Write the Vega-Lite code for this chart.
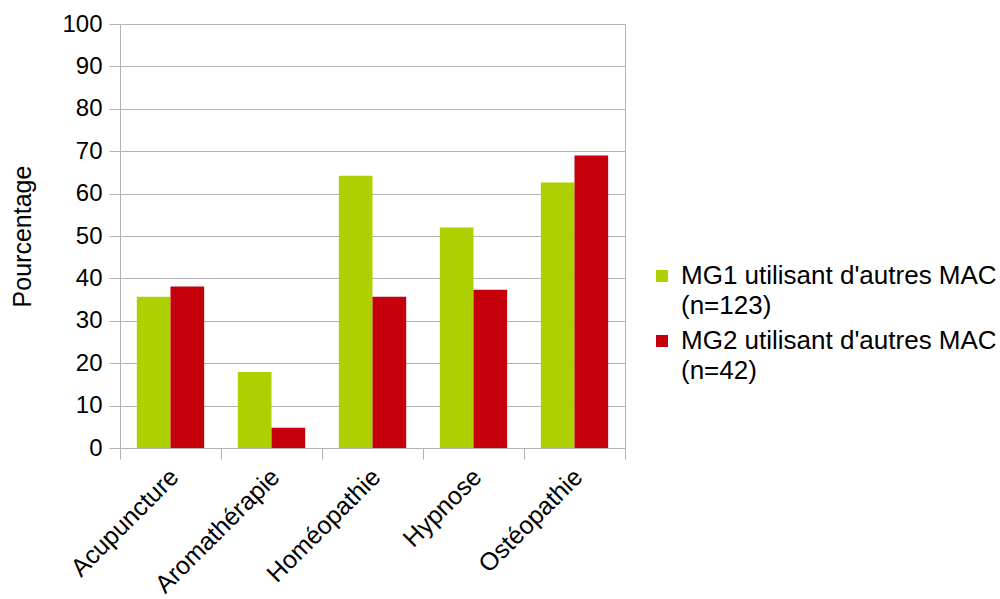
{
  "$schema": "https://vega.github.io/schema/vega-lite/v6.json",
  "width": 505,
  "height": 424,
  "autosize": {"type": "none"},
  "padding": {"left": 120, "top": 24, "right": 375, "bottom": 151},
  "background": "white",
  "config": {
    "font": "Liberation Sans",
    "view": {"stroke": "#b3b3b3", "strokeWidth": 1},
    "style": {"guide-label": {"lineHeight": 30}},
    "axis": {
      "domainColor": "#b3b3b3",
      "tickColor": "#b3b3b3",
      "gridColor": "#b3b3b3",
      "labelColor": "black",
      "titleColor": "black",
      "labelFont": "Liberation Sans",
      "titleFont": "Liberation Sans",
      "labelFontSize": 25,
      "titleFontSize": 25,
      "titleFontWeight": "normal",
      "tickSize": 11
    },
    "legend": {
      "labelFont": "Liberation Sans",
      "labelFontSize": 26,
      "labelColor": "black"
    }
  },
  "data": {
    "values": [
      {"categorie": "Acupuncture", "groupe": "MG1 utilisant d'autres MAC (n=123)", "valeur": 35.7},
      {"categorie": "Acupuncture", "groupe": "MG2 utilisant d'autres MAC (n=42)", "valeur": 38.1},
      {"categorie": "Aromathérapie", "groupe": "MG1 utilisant d'autres MAC (n=123)", "valeur": 17.9},
      {"categorie": "Aromathérapie", "groupe": "MG2 utilisant d'autres MAC (n=42)", "valeur": 4.8},
      {"categorie": "Homéopathie", "groupe": "MG1 utilisant d'autres MAC (n=123)", "valeur": 64.2},
      {"categorie": "Homéopathie", "groupe": "MG2 utilisant d'autres MAC (n=42)", "valeur": 35.7},
      {"categorie": "Hypnose", "groupe": "MG1 utilisant d'autres MAC (n=123)", "valeur": 52.0},
      {"categorie": "Hypnose", "groupe": "MG2 utilisant d'autres MAC (n=42)", "valeur": 37.3},
      {"categorie": "Ostéopathie", "groupe": "MG1 utilisant d'autres MAC (n=123)", "valeur": 62.6},
      {"categorie": "Ostéopathie", "groupe": "MG2 utilisant d'autres MAC (n=42)", "valeur": 69.0}
    ]
  },
  "mark": {"type": "bar"},
  "encoding": {
    "x": {
      "field": "categorie",
      "type": "nominal",
      "sort": null,
      "scale": {"paddingInner": 0, "paddingOuter": 0},
      "axis": {
        "title": null,
        "labelAngle": -45,
        "tickBand": "extent",
        "grid": false,
        "labelFontSize": 25,
        "labelPadding": 5,
        "labelOffset": -5
      }
    },
    "xOffset": {
      "field": "groupe",
      "sort": null,
      "scale": {"paddingInner": 0, "paddingOuter": 0.5}
    },
    "y": {
      "field": "valeur",
      "type": "quantitative",
      "scale": {"domain": [0, 100]},
      "axis": {
        "title": "Pourcentage",
        "values": [0, 10, 20, 30, 40, 50, 60, 70, 80, 90, 100],
        "labelFontSize": 24,
        "labelPadding": 7,
        "titlePadding": 26
      }
    },
    "color": {
      "field": "groupe",
      "type": "nominal",
      "sort": null,
      "scale": {"range": ["#aecf00", "#c5000b"]},
      "legend": {
        "title": null,
        "orient": "none",
        "legendX": 529,
        "legendY": 239,
        "padding": 0,
        "symbolType": "square",
        "symbolSize": 144,
        "symbolStrokeWidth": 0,
        "labelOffset": 6,
        "labelLimit": 400,
        "rowPadding": 9,
        "labelExpr": "[slice(datum.label, 0, indexof(datum.label, ' (')), slice(datum.label, indexof(datum.label, ' (') + 1)]"
      }
    }
  }
}
